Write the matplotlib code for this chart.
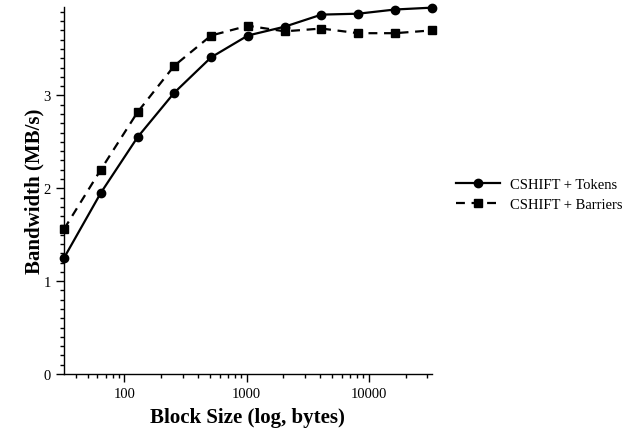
import matplotlib
matplotlib.use("Agg")
import matplotlib.pyplot as plt
from matplotlib.ticker import FixedLocator, MultipleLocator, LogLocator, NullFormatter

block_sizes = [32, 64, 128, 256, 512, 1024, 2048, 4096, 8192, 16384, 32768]
tokens = [1.25, 1.95, 2.55, 3.03, 3.41, 3.645, 3.74, 3.87, 3.88, 3.925, 3.945]
barriers = [1.56, 2.20, 2.82, 3.32, 3.645, 3.75, 3.69, 3.72, 3.67, 3.67, 3.70]
x_ticks = [100, 1000, 10000]
y_ticks = [0, 1, 2, 3]

plt.rcParams["font.family"] = ["Liberation Serif", "DejaVu Serif"]

fig = plt.figure(figsize=(6.34, 4.31), dpi=100)
ax = fig.add_axes([0.101, 0.130, 0.580, 0.851])

ax.plot(block_sizes, tokens, "-", color="black", lw=1.6, marker="o", ms=6,
        clip_on=False, label="CSHIFT + Tokens")
ax.plot(block_sizes, barriers, "--", color="black", lw=1.6, marker="s", ms=6,
        dashes=(4, 3), clip_on=False, label="CSHIFT + Barriers")

ax.set_xscale("log")
ax.set_xlim(32, 32768)
ax.set_ylim(0, 3.95)
ax.xaxis.set_major_locator(FixedLocator(x_ticks))
ax.set_xticklabels([str(t) for t in x_ticks])
ax.xaxis.set_minor_locator(LogLocator(base=10, subs=range(2, 10)))
ax.xaxis.set_minor_formatter(NullFormatter())
ax.yaxis.set_major_locator(FixedLocator(y_ticks))
ax.yaxis.set_minor_locator(MultipleLocator(0.1))

for side in ("top", "right"):
    ax.spines[side].set_visible(False)
ax.spines["left"].set_linewidth(1.0)
ax.spines["bottom"].set_linewidth(1.0)
ax.tick_params(which="major", direction="out", length=6, width=1, labelsize=10.5)
ax.tick_params(which="minor", direction="out", length=3, width=1)

ax.set_xlabel("Block Size (log, bytes)", fontsize=15, fontweight="bold", labelpad=5)
ax.set_ylabel("Bandwidth (MB/s)", fontsize=15, fontweight="bold", labelpad=-1)

ax.legend(loc="center left", bbox_to_anchor=(1.03, 0.49), frameon=False,
          fontsize=10.5, handlelength=3.0, handletextpad=0.7, labelspacing=0.45)

fig.savefig("out.png", dpi=100)
